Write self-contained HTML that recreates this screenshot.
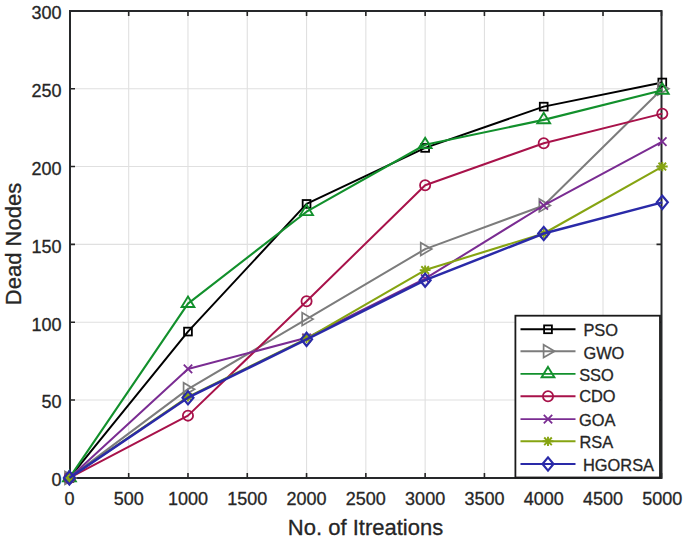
<!DOCTYPE html>
<html><head><meta charset="utf-8"><style>
html,body{margin:0;padding:0;background:#fff;}
svg{display:block;}
text{font-family:"Liberation Sans",sans-serif;fill:#262626;stroke:#262626;stroke-width:0.3px;}
</style></head><body>
<svg width="685" height="538" viewBox="0 0 685 538">
<rect x="0" y="0" width="685" height="538" fill="#ffffff"/>
<path d="M128.69,11.00V478.00 M187.98,11.00V478.00 M247.27,11.00V478.00 M306.56,11.00V478.00 M365.85,11.00V478.00 M425.14,11.00V478.00 M484.43,11.00V478.00 M543.72,11.00V478.00 M603.01,11.00V478.00 M70.00,400.07H661.50 M70.00,322.23H661.50 M70.00,244.40H661.50 M70.00,166.57H661.50 M70.00,88.73H661.50" stroke="#e0e0e0" stroke-width="1.1" fill="none"/>
<path d="M70.00,478.00v-5 M70.00,11.00v5 M128.69,478.00v-5 M128.69,11.00v5 M187.98,478.00v-5 M187.98,11.00v5 M247.27,478.00v-5 M247.27,11.00v5 M306.56,478.00v-5 M306.56,11.00v5 M365.85,478.00v-5 M365.85,11.00v5 M425.14,478.00v-5 M425.14,11.00v5 M484.43,478.00v-5 M484.43,11.00v5 M543.72,478.00v-5 M543.72,11.00v5 M603.01,478.00v-5 M603.01,11.00v5 M661.50,478.00v-5 M661.50,11.00v5 M70.00,477.90h5 M661.50,477.90h-5 M70.00,400.07h5 M661.50,400.07h-5 M70.00,322.23h5 M661.50,322.23h-5 M70.00,244.40h5 M661.50,244.40h-5 M70.00,166.57h5 M661.50,166.57h-5 M70.00,88.73h5 M661.50,88.73h-5 M70.00,10.90h5 M661.50,10.90h-5" stroke="#262626" stroke-width="1.6" fill="none"/>
<rect x="70.00" y="11.00" width="591.50" height="467.00" fill="none" stroke="#26282a" stroke-width="2"/>
<polyline points="69.40,477.90 187.98,331.57 306.56,203.93 425.14,147.89 543.72,106.63 662.30,82.51" fill="none" stroke="#000000" stroke-width="2.0" stroke-linejoin="round"/>
<rect x="65.50" y="474.00" width="7.80" height="7.80" fill="none" stroke="#000000" stroke-width="1.8"/>
<rect x="184.08" y="327.67" width="7.80" height="7.80" fill="none" stroke="#000000" stroke-width="1.8"/>
<rect x="302.66" y="200.03" width="7.80" height="7.80" fill="none" stroke="#000000" stroke-width="1.8"/>
<rect x="421.24" y="143.99" width="7.80" height="7.80" fill="none" stroke="#000000" stroke-width="1.8"/>
<rect x="539.82" y="102.73" width="7.80" height="7.80" fill="none" stroke="#000000" stroke-width="1.8"/>
<rect x="658.40" y="78.61" width="7.80" height="7.80" fill="none" stroke="#000000" stroke-width="1.8"/>
<polyline points="69.40,477.90 187.98,389.17 306.56,319.12 425.14,249.07 543.72,205.48 662.30,88.73" fill="none" stroke="#7c7c7c" stroke-width="2.0" stroke-linejoin="round"/>
<path d="M76.00,477.90 L65.00,471.50 L65.00,484.30 Z" fill="none" stroke="#7c7c7c" stroke-width="1.7"/>
<path d="M194.58,389.17 L183.58,382.77 L183.58,395.57 Z" fill="none" stroke="#7c7c7c" stroke-width="1.7"/>
<path d="M313.16,319.12 L302.16,312.72 L302.16,325.52 Z" fill="none" stroke="#7c7c7c" stroke-width="1.7"/>
<path d="M431.74,249.07 L420.74,242.67 L420.74,255.47 Z" fill="none" stroke="#7c7c7c" stroke-width="1.7"/>
<path d="M550.32,205.48 L539.32,199.08 L539.32,211.88 Z" fill="none" stroke="#7c7c7c" stroke-width="1.7"/>
<path d="M668.90,88.73 L657.90,82.33 L657.90,95.13 Z" fill="none" stroke="#7c7c7c" stroke-width="1.7"/>
<polyline points="69.40,477.90 187.98,303.55 306.56,211.71 425.14,144.77 543.72,119.87 662.30,90.29" fill="none" stroke="#12902c" stroke-width="2.1" stroke-linejoin="round"/>
<path d="M69.40,470.90 L75.80,481.30 L63.00,481.30 Z" fill="none" stroke="#12902c" stroke-width="1.9"/>
<path d="M187.98,296.55 L194.38,306.95 L181.58,306.95 Z" fill="none" stroke="#12902c" stroke-width="1.9"/>
<path d="M306.56,204.71 L312.96,215.11 L300.16,215.11 Z" fill="none" stroke="#12902c" stroke-width="1.9"/>
<path d="M425.14,137.77 L431.54,148.17 L418.74,148.17 Z" fill="none" stroke="#12902c" stroke-width="1.9"/>
<path d="M543.72,112.87 L550.12,123.27 L537.32,123.27 Z" fill="none" stroke="#12902c" stroke-width="1.9"/>
<path d="M662.30,83.29 L668.70,93.69 L655.90,93.69 Z" fill="none" stroke="#12902c" stroke-width="1.9"/>
<polyline points="69.40,477.90 187.98,415.63 306.56,301.22 425.14,185.25 543.72,143.22 662.30,113.64" fill="none" stroke="#a8124a" stroke-width="2.0" stroke-linejoin="round"/>
<circle cx="69.40" cy="477.90" r="5.1" fill="none" stroke="#a8124a" stroke-width="1.8"/>
<circle cx="187.98" cy="415.63" r="5.1" fill="none" stroke="#a8124a" stroke-width="1.8"/>
<circle cx="306.56" cy="301.22" r="5.1" fill="none" stroke="#a8124a" stroke-width="1.8"/>
<circle cx="425.14" cy="185.25" r="5.1" fill="none" stroke="#a8124a" stroke-width="1.8"/>
<circle cx="543.72" cy="143.22" r="5.1" fill="none" stroke="#a8124a" stroke-width="1.8"/>
<circle cx="662.30" cy="113.64" r="5.1" fill="none" stroke="#a8124a" stroke-width="1.8"/>
<polyline points="69.40,477.90 187.98,368.93 306.56,337.80 425.14,278.65 543.72,205.48 662.30,141.66" fill="none" stroke="#7a2c92" stroke-width="2.0" stroke-linejoin="round"/>
<path d="M65.20,473.70 L73.60,482.10 M65.20,482.10 L73.60,473.70" stroke="#7a2c92" stroke-width="1.8"/>
<path d="M183.78,364.73 L192.18,373.13 M183.78,373.13 L192.18,364.73" stroke="#7a2c92" stroke-width="1.8"/>
<path d="M302.36,333.60 L310.76,342.00 M302.36,342.00 L310.76,333.60" stroke="#7a2c92" stroke-width="1.8"/>
<path d="M420.94,274.45 L429.34,282.85 M420.94,282.85 L429.34,274.45" stroke="#7a2c92" stroke-width="1.8"/>
<path d="M539.52,201.28 L547.92,209.68 M539.52,209.68 L547.92,201.28" stroke="#7a2c92" stroke-width="1.8"/>
<path d="M658.10,137.46 L666.50,145.86 M658.10,145.86 L666.50,137.46" stroke="#7a2c92" stroke-width="1.8"/>
<polyline points="69.40,477.90 187.98,396.95 306.56,338.58 425.14,270.08 543.72,233.50 662.30,166.57" fill="none" stroke="#86a412" stroke-width="2.1" stroke-linejoin="round"/>
<path d="M64.00,477.90 L74.80,477.90 M69.40,473.30 L69.40,482.50 M65.58,474.08 L73.22,481.72 M65.58,481.72 L73.22,474.08" stroke="#86a412" stroke-width="1.9"/>
<path d="M182.58,396.95 L193.38,396.95 M187.98,392.35 L187.98,401.55 M184.16,393.14 L191.80,400.77 M184.16,400.77 L191.80,393.14" stroke="#86a412" stroke-width="1.9"/>
<path d="M301.16,338.58 L311.96,338.58 M306.56,333.98 L306.56,343.18 M302.74,334.76 L310.38,342.40 M302.74,342.40 L310.38,334.76" stroke="#86a412" stroke-width="1.9"/>
<path d="M419.74,270.08 L430.54,270.08 M425.14,265.48 L425.14,274.69 M421.32,266.27 L428.96,273.90 M421.32,273.90 L428.96,266.27" stroke="#86a412" stroke-width="1.9"/>
<path d="M538.32,233.50 L549.12,233.50 M543.72,228.90 L543.72,238.10 M539.90,229.69 L547.54,237.32 M539.90,237.32 L547.54,229.69" stroke="#86a412" stroke-width="1.9"/>
<path d="M656.90,166.57 L667.70,166.57 M662.30,161.97 L662.30,171.17 M658.48,162.75 L666.12,170.38 M658.48,170.38 L666.12,162.75" stroke="#86a412" stroke-width="1.9"/>
<polyline points="69.40,477.90 187.98,397.73 306.56,339.36 425.14,280.20 543.72,233.50 662.30,202.37" fill="none" stroke="#2a2aa8" stroke-width="2.5" stroke-linejoin="round"/>
<path d="M69.40,471.30 L74.90,477.90 L69.40,484.50 L63.90,477.90 Z" fill="none" stroke="#2a2aa8" stroke-width="2.2"/>
<path d="M187.98,391.13 L193.48,397.73 L187.98,404.33 L182.48,397.73 Z" fill="none" stroke="#2a2aa8" stroke-width="2.2"/>
<path d="M306.56,332.76 L312.06,339.36 L306.56,345.96 L301.06,339.36 Z" fill="none" stroke="#2a2aa8" stroke-width="2.2"/>
<path d="M425.14,273.60 L430.64,280.20 L425.14,286.80 L419.64,280.20 Z" fill="none" stroke="#2a2aa8" stroke-width="2.2"/>
<path d="M543.72,226.90 L549.22,233.50 L543.72,240.10 L538.22,233.50 Z" fill="none" stroke="#2a2aa8" stroke-width="2.2"/>
<path d="M662.30,195.77 L667.80,202.37 L662.30,208.97 L656.80,202.37 Z" fill="none" stroke="#2a2aa8" stroke-width="2.2"/>
<text x="69.40" y="504.5" font-size="18" text-anchor="middle">0</text>
<text x="128.69" y="504.5" font-size="18" text-anchor="middle">500</text>
<text x="187.98" y="504.5" font-size="18" text-anchor="middle">1000</text>
<text x="247.27" y="504.5" font-size="18" text-anchor="middle">1500</text>
<text x="306.56" y="504.5" font-size="18" text-anchor="middle">2000</text>
<text x="365.85" y="504.5" font-size="18" text-anchor="middle">2500</text>
<text x="425.14" y="504.5" font-size="18" text-anchor="middle">3000</text>
<text x="484.43" y="504.5" font-size="18" text-anchor="middle">3500</text>
<text x="543.72" y="504.5" font-size="18" text-anchor="middle">4000</text>
<text x="603.01" y="504.5" font-size="18" text-anchor="middle">4500</text>
<text x="662.30" y="504.5" font-size="18" text-anchor="middle">5000</text>
<text x="61.6" y="486.20" font-size="18" text-anchor="end">0</text>
<text x="61.6" y="408.37" font-size="18" text-anchor="end">50</text>
<text x="61.6" y="330.53" font-size="18" text-anchor="end">100</text>
<text x="61.6" y="252.70" font-size="18" text-anchor="end">150</text>
<text x="61.6" y="174.87" font-size="18" text-anchor="end">200</text>
<text x="61.6" y="97.03" font-size="18" text-anchor="end">250</text>
<text x="61.6" y="19.20" font-size="18" text-anchor="end">300</text>
<text x="365.5" y="534.7" font-size="22" text-anchor="middle">No. of Itreations</text>
<text transform="translate(20.5,244) rotate(-90)" x="0" y="0" font-size="22" text-anchor="middle">Dead Nodes</text>
<rect x="515.4" y="315.7" width="144.60000000000002" height="161.8" fill="#ffffff" stroke="#1a1a1a" stroke-width="1.8"/>
<line x1="520.5" y1="329.3" x2="575.5" y2="329.3" stroke="#000000" stroke-width="1.9"/>
<rect x="544.10" y="325.40" width="7.80" height="7.80" fill="none" stroke="#000000" stroke-width="1.8"/>
<text x="583.4" y="335.90" font-size="16.4" fill="#000" stroke="#000">PSO</text>
<line x1="520.5" y1="351.2" x2="575.5" y2="351.2" stroke="#7c7c7c" stroke-width="1.9"/>
<path d="M554.60,351.20 L543.60,344.80 L543.60,357.60 Z" fill="none" stroke="#7c7c7c" stroke-width="1.7"/>
<text x="583.4" y="358.70" font-size="16.4" fill="#000" stroke="#000">GWO</text>
<line x1="520.5" y1="373.9" x2="575.5" y2="373.9" stroke="#12902c" stroke-width="1.9"/>
<path d="M548.00,366.90 L554.40,377.30 L541.60,377.30 Z" fill="none" stroke="#12902c" stroke-width="1.9"/>
<text x="579.2" y="380.50" font-size="16.4" fill="#000" stroke="#000">SSO</text>
<line x1="520.5" y1="396.2" x2="575.5" y2="396.2" stroke="#a8124a" stroke-width="1.9"/>
<circle cx="548.00" cy="396.20" r="5.1" fill="none" stroke="#a8124a" stroke-width="1.8"/>
<text x="579.2" y="402.30" font-size="16.4" fill="#000" stroke="#000">CDO</text>
<line x1="520.5" y1="419.1" x2="575.5" y2="419.1" stroke="#7a2c92" stroke-width="1.9"/>
<path d="M543.80,414.90 L552.20,423.30 M543.80,423.30 L552.20,414.90" stroke="#7a2c92" stroke-width="1.8"/>
<text x="579.0" y="425.70" font-size="16.4" fill="#000" stroke="#000">GOA</text>
<line x1="520.5" y1="441.3" x2="575.5" y2="441.3" stroke="#86a412" stroke-width="1.9"/>
<path d="M542.60,441.30 L553.40,441.30 M548.00,436.70 L548.00,445.90 M544.18,437.48 L551.82,445.12 M544.18,445.12 L551.82,437.48" stroke="#86a412" stroke-width="1.9"/>
<text x="579.4" y="447.60" font-size="16.4" fill="#000" stroke="#000">RSA</text>
<line x1="520.5" y1="464.0" x2="575.5" y2="464.0" stroke="#2a2aa8" stroke-width="1.9"/>
<path d="M548.00,457.40 L553.50,464.00 L548.00,470.60 L542.50,464.00 Z" fill="none" stroke="#2a2aa8" stroke-width="2.2"/>
<text x="583.0" y="470.95" font-size="16.4" fill="#000" stroke="#000">HGORSA</text>
</svg></body></html>
